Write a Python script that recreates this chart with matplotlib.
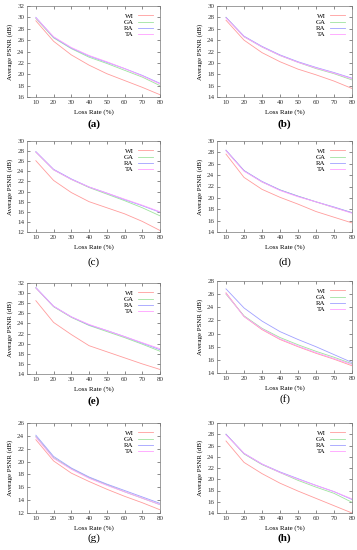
import matplotlib
matplotlib.use("Agg")
import matplotlib.pyplot as plt
import numpy as np

plt.rcParams['font.family'] = ['Liberation Serif', 'DejaVu Serif']

loss_rate = [10, 20, 30, 40, 50, 60, 70, 80]
methods = ["WI", "GA", "RA", "TA"]
panel_labels = ["(a)", "(b)", "(c)", "(d)", "(e)", "(f)", "(g)", "(h)"]

a_WI = [29.4, 25.8, 23.4, 21.6, 20.1, 18.9, 17.7, 16.4]
a_GA = [29.8, 26.4, 24.5, 23.0, 21.9, 20.7, 19.5, 18.0]
a_RA = [30.0, 26.5, 24.6, 23.2, 22.1, 21.0, 19.8, 18.4]
a_TA = [29.9, 26.6, 24.7, 23.3, 22.2, 21.0, 19.7, 18.3]

b_WI = [27.5, 24.0, 21.8, 20.2, 18.9, 17.9, 16.8, 15.5]
b_GA = [28.0, 24.6, 22.8, 21.3, 20.1, 19.0, 18.1, 17.0]
b_RA = [28.0, 24.7, 22.9, 21.4, 20.2, 19.2, 18.3, 17.3]
b_TA = [27.9, 24.6, 22.8, 21.3, 20.1, 19.1, 18.2, 17.2]

c_WI = [26.1, 22.2, 19.8, 18.0, 16.8, 15.6, 14.1, 12.3]
c_GA = [27.8, 24.3, 22.4, 20.8, 19.5, 18.2, 16.8, 15.2]
c_RA = [27.9, 24.4, 22.5, 20.9, 19.7, 18.4, 17.2, 15.9]
c_TA = [27.8, 24.3, 22.4, 20.9, 19.7, 18.5, 17.3, 16.0]

d_WI = [27.7, 23.6, 21.5, 20.1, 18.9, 17.6, 16.6, 15.6]
d_GA = [28.3, 24.8, 22.8, 21.4, 20.3, 19.3, 18.3, 17.4]
d_RA = [28.4, 24.8, 22.9, 21.4, 20.3, 19.3, 18.4, 17.4]
d_TA = [28.3, 24.7, 22.8, 21.3, 20.2, 19.3, 18.3, 17.3]

e_WI = [28.5, 24.2, 21.8, 19.6, 18.4, 17.2, 16.0, 14.9]
e_GA = [31.0, 27.3, 25.2, 23.6, 22.4, 21.2, 19.9, 18.5]
e_RA = [31.1, 27.4, 25.3, 23.7, 22.6, 21.4, 20.1, 18.8]
e_TA = [31.0, 27.4, 25.3, 23.8, 22.6, 21.4, 20.2, 19.0]

f_WI = [26.2, 22.6, 20.6, 19.1, 18.0, 17.0, 16.1, 15.1]
f_GA = [26.0, 22.7, 20.8, 19.4, 18.3, 17.3, 16.4, 15.4]
f_RA = [26.8, 23.9, 21.9, 20.3, 19.1, 18.0, 16.8, 15.6]
f_TA = [26.1, 22.6, 20.7, 19.2, 18.1, 17.1, 16.2, 15.3]

g_WI = [23.4, 20.1, 18.2, 16.9, 15.7, 14.6, 13.6, 12.5]
g_GA = [23.9, 20.6, 18.9, 17.5, 16.4, 15.3, 14.3, 13.3]
g_RA = [24.1, 20.8, 19.0, 17.6, 16.5, 15.5, 14.5, 13.5]
g_TA = [23.8, 20.5, 18.8, 17.4, 16.3, 15.3, 14.3, 13.3]

h_WI = [26.8, 23.0, 21.0, 19.3, 17.9, 16.6, 15.3, 14.0]
h_GA = [28.0, 24.5, 22.6, 21.2, 19.8, 18.6, 17.5, 15.9]
h_RA = [28.0, 24.6, 22.7, 21.3, 20.1, 18.9, 17.8, 16.4]
h_TA = [27.9, 24.6, 22.7, 21.2, 20.0, 18.9, 17.8, 16.5]

panels = [
    (a_WI, a_GA, a_RA, a_TA),
    (b_WI, b_GA, b_RA, b_TA),
    (c_WI, c_GA, c_RA, c_TA),
    (d_WI, d_GA, d_RA, d_TA),
    (e_WI, e_GA, e_RA, e_TA),
    (f_WI, f_GA, f_RA, f_TA),
    (g_WI, g_GA, g_RA, g_TA),
    (h_WI, h_GA, h_RA, h_TA),
]
y_ranges = [(16, 32), (14, 30), (12, 30), (14, 30), (14, 32), (14, 28), (12, 26), (14, 30)]
label_bold = [True, True, False, False, True, False, False, True]

colors = ['#ff9c9c', '#9fe39f', '#a0a0ff', '#ffa0ff']

fig = plt.figure(figsize=(3.57, 5.5), dpi=100)
W, H = 357.0, 550.0
# (left, top, right, bottom) in pixels
boxes = [
    (27, 6, 160, 97), (217, 6, 352, 97),
    (27, 141, 160, 232), (217, 141, 352, 232),
    (27, 283, 160, 374), (217, 281, 352, 373),
    (27, 423, 160, 513), (217, 423, 352, 513),
]
label_y = [124, 124, 262, 262, 401, 399, 538, 538]

for i, (series, (l, t, r, b)) in enumerate(zip(panels, boxes)):
    ax = fig.add_axes([l / W, 1 - b / H, (r - l) / W, (b - t) / H])
    for name, vals, c in zip(methods, series, colors):
        ax.plot(loss_rate, vals, color=c, lw=0.6, label=name)
    ax.set_xlim(5, 80)
    ylo, yhi = y_ranges[i]
    ax.set_ylim(ylo, yhi)
    ax.set_xticks(loss_rate)
    ax.set_yticks(np.arange(ylo, yhi + 0.1, 2))
    ax.tick_params(direction='in', top=True, right=True, length=2, width=0.4,
                   labelsize=5, pad=2, colors='#333333')
    for s in ax.spines.values():
        s.set_linewidth(0.5)
        s.set_color('#777777')
    ax.set_xlabel('Loss Rate (%)', fontsize=5, labelpad=3)
    ax.set_ylabel('Average PSNR (dB)', fontsize=5, labelpad=3)
    ax.legend(loc='upper right', fontsize=5, frameon=False, markerfirst=False,
              handlelength=2.2, handletextpad=0.6, labelspacing=0.05,
              borderaxespad=0.6)
    cx = (l + r) / 2 / W
    fig.text(cx, 1 - label_y[i] / H, panel_labels[i], ha='center', va='center',
             fontsize=8, fontweight='bold' if label_bold[i] else 'normal')

fig.savefig('out.png', dpi=100)
